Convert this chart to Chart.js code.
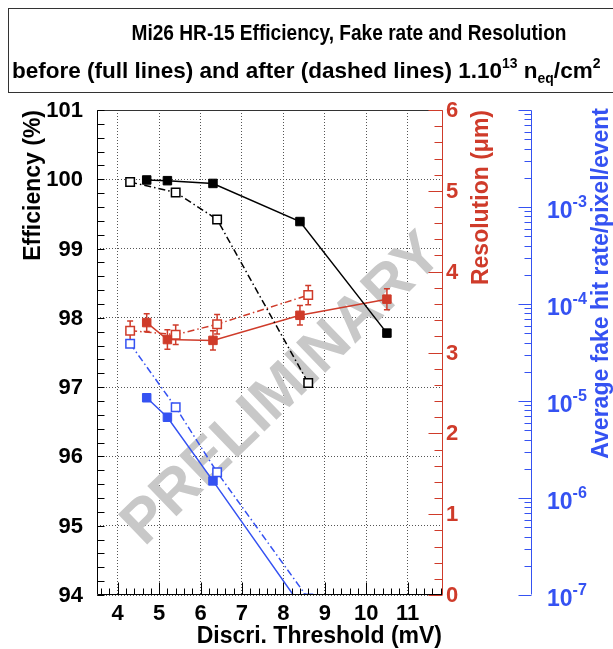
<!DOCTYPE html>
<html>
<head>
<meta charset="utf-8">
<script src="https://cdn.jsdelivr.net/npm/chart.js@4.4.1/dist/chart.umd.min.js"></script>
<style>
    body { margin: 0; background: #ffffff; }
    #caixa { width: 613px; height: 649px; }
</style>
</head>
<body>
<div id="caixa"><canvas id="grafico" width="613" height="649"></canvas></div>
<script>
// limiar do discriminador (mV), antes e depois da irradiacao
var limiarAntes = [4.7, 5.2, 6.3, 8.4, 10.5];
var limiarDepois = [4.3, 5.4, 6.4, 8.6];

// eficiencia (%)
var eficAntes = [99.99, 99.98, 99.94, 99.39, 97.78];
var eficAntesErr = [0.02, 0.02, 0.02, 0.02, 0.05];
var eficDepois = [99.96, 99.81, 99.42, 97.06];
var eficDepoisErr = [0.02, 0.02, 0.03, 0.06];

// resolucao (um)
var resolAntes = [3.37, 3.16, 3.15, 3.46, 3.66];
var resolAntesErr = [0.11, 0.12, 0.12, 0.12, 0.13];
var resolDepois = [3.27, 3.22, 3.35, 3.71];
var resolDepoisErr = [0.12, 0.12, 0.12, 0.12];

// taxa de hits falsos / pixel / evento (ultimo ponto cai abaixo do eixo)
var falsoAntes = [1.08e-5, 6.8e-6, 1.5e-6, 8e-8];
var falsoDepois = [3.9e-5, 8.6e-6, 1.84e-6, 9.2e-8];

// marcas dos eixos
var ticksX = [4, 5, 6, 7, 8, 9, 10, 11];
var ticksEfic = [94, 95, 96, 97, 98, 99, 100, 101];
var ticksResol = [0, 1, 2, 3, 4, 5, 6];
var expoentesFalso = [-7, -6, -5, -4, -3];

var PRETO = '#000000';
var VERMELHO = '#cf3b2a';
var AZUL = '#3552f2';
var FONTE = '"Liberation Sans", Arial, sans-serif';

function pontos (xs, ys) {
    return ys.map(function (y, i) { return { x: xs[i], y: y }; });
}

function escreve (ctx, texto, x, y, fonte, cor, alinh, base, ang, largura) {
    ctx.save();
    ctx.translate(x, y);
    if (ang) ctx.rotate(ang);
    ctx.font = fonte;
    ctx.fillStyle = cor;
    ctx.textAlign = alinh;
    ctx.textBaseline = base;
    // largura alvo: comprime o texto na horizontal
    if (largura) ctx.scale(largura / ctx.measureText(texto).width, 1);
    ctx.fillText(texto, 0, 0);
    ctx.restore();
}

// texto com pedacos em sobrescrito / subscrito
function escrevePartes (ctx, partes, x, y, tam, alinh) {
    var total = 0;
    partes.forEach(function (p) {
        ctx.font = 'bold ' + (tam * p.s) + 'px ' + FONTE;
        p.w = ctx.measureText(p.t).width;
        total += p.w;
    });
    var cx = alinh === 'center' ? x - total / 2 : x;
    partes.forEach(function (p) {
        escreve(ctx, p.t, cx, y + p.dy, 'bold ' + (tam * p.s) + 'px ' + FONTE, p.cor || PRETO, 'left', 'alphabetic');
        cx += p.w;
    });
}

function linhaDoEixo (ctx, x1, y1, x2, y2, cor) {
    ctx.strokeStyle = cor;
    ctx.beginPath();
    ctx.moveTo(x1, y1);
    ctx.lineTo(x2, y2);
    ctx.stroke();
}

var moldura = {
    id: 'moldura',
    beforeDatasetsDraw: function (chart) {
        var ctx = chart.ctx;
        var a = chart.chartArea;

        ctx.save();
        ctx.beginPath();
        ctx.rect(a.left, a.top, a.right - a.left, a.bottom - a.top);
        ctx.clip();
        escreve(ctx, 'PRELIMINARY', 283, 390, 'bold 61px ' + FONTE, '#c8c8c8', 'center', 'middle', -44 * Math.PI / 180);
        ctx.restore();

        // barras de erro
        chart.data.datasets.forEach(function (ds) {
            if (!ds.erro) return;
            var sy = chart.scales[ds.yAxisID];
            var sx = chart.scales.x;
            ctx.save();
            ctx.strokeStyle = ds.borderColor;
            ctx.lineWidth = 1.5;
            ds.data.forEach(function (p, j) {
                var px = sx.getPixelForValue(p.x);
                var y1 = sy.getPixelForValue(p.y - ds.erro[j]);
                var y2 = sy.getPixelForValue(p.y + ds.erro[j]);
                ctx.beginPath();
                ctx.moveTo(px, y1); ctx.lineTo(px, y2);
                ctx.moveTo(px - 3, y1); ctx.lineTo(px + 3, y1);
                ctx.moveTo(px - 3, y2); ctx.lineTo(px + 3, y2);
                ctx.stroke();
            });
            ctx.restore();
        });
    },
    afterDraw: function (chart) {
        var ctx = chart.ctx;
        var a = chart.chartArea;
        var sx = chart.scales.x, sy = chart.scales.y, sr = chart.scales.yRes, sf = chart.scales.yFake;
        var L = a.left + 0.5, R = a.right + 0.5, T = a.top + 0.5, B = a.bottom - 0.5;
        var xAzul = sf.left + 0.5;
        var k, py, px;

        ctx.save();
        ctx.lineWidth = 1;

        // moldura preta
        linhaDoEixo(ctx, L, T, R, T, '#333333');
        linhaDoEixo(ctx, L, T, L, B, PRETO);
        linhaDoEixo(ctx, L, B, R, B, PRETO);

        // eixo esquerdo: marcas a cada 0.2
        for (k = 0; k <= 35; k++) {
            py = Math.round(sy.getPixelForValue(94 + k * 0.2)) + 0.5;
            linhaDoEixo(ctx, L, py, L + 7, py, PRETO);
        }
        // eixo x
        for (k = 18; k <= 59; k++) {
            px = Math.round(sx.getPixelForValue(k * 0.2)) + 0.5;
            linhaDoEixo(ctx, px, B, px, B - (k % 5 === 0 ? 12 : 6), PRETO);
        }
        // eixo vermelho
        linhaDoEixo(ctx, R, T, R, B, VERMELHO);
        for (k = 0; k <= 30; k++) {
            py = Math.round(sr.getPixelForValue(k * 0.2)) + 0.5;
            linhaDoEixo(ctx, R, py, R - (k % 5 === 0 ? 14 : 8), py, VERMELHO);
        }
        // eixo azul (log)
        linhaDoEixo(ctx, xAzul, T, xAzul, B, AZUL);
        for (var e = -7; e <= -2; e++) {
            for (var m = 1; m <= 9; m++) {
                if (e === -2 && m > 1) break;
                py = Math.round(sf.getPixelForValue(m * Math.pow(10, e))) + 0.5;
                linhaDoEixo(ctx, xAzul, py, xAzul - (m === 1 ? 13 : 7), py, AZUL);
            }
        }

        // rotulos
        var fTick = 'bold 22px ' + FONTE;
        ticksX.forEach(function (t) {
            escreve(ctx, String(t), sx.getPixelForValue(t), 614, fTick, PRETO, 'center', 'middle');
        });
        ticksEfic.forEach(function (t) {
            escreve(ctx, String(t), 83, sy.getPixelForValue(t) + 1, fTick, PRETO, 'right', 'middle');
        });
        ticksResol.forEach(function (t) {
            escreve(ctx, String(t), a.right + 4, sr.getPixelForValue(t) + 1, fTick, VERMELHO, 'left', 'middle');
        });
        expoentesFalso.forEach(function (e) {
            var yb = sf.getPixelForValue(Math.pow(10, e)) + 11;
            escrevePartes(ctx, [
                { t: '10', s: 1, dy: 0, cor: AZUL },
                { t: String(e), s: 0.7, dy: -11, cor: AZUL }
            ], 547, yb, 23, 'left');
        });

        // titulos dos eixos
        var fTit = 'bold 23px ' + FONTE;
        escreve(ctx, 'Efficiency (%)', 34, a.top, fTit, PRETO, 'right', 'middle', -Math.PI / 2);
        escreve(ctx, 'Resolution (\u03bcm)', 482, a.top, fTit, VERMELHO, 'right', 'middle', -Math.PI / 2);
        escreve(ctx, 'Average fake hit rate/pixel/event', 602, a.top - 2, fTit, AZUL, 'right', 'middle', -Math.PI / 2);
        escreve(ctx, 'Discri. Threshold (mV)', a.right, 637, fTit, PRETO, 'right', 'middle');

        // caixa do titulo
        ctx.strokeStyle = '#333333';
        ctx.strokeRect(8.5, 8.5, 700, 84);
        escreve(ctx, 'Mi26 HR-15 Efficiency, Fake rate and Resolution', 349, 40, 'bold 21.5px ' + FONTE, PRETO, 'center', 'alphabetic', 0, 435);
        escrevePartes(ctx, [
            { t: 'before (full lines) and after (dashed lines) 1.10', s: 1, dy: 0 },
            { t: '13', s: 0.62, dy: -10 },
            { t: ' n', s: 1, dy: 0 },
            { t: 'eq', s: 0.62, dy: 5 },
            { t: '/cm', s: 1, dy: 0 },
            { t: '2', s: 0.62, dy: -10 }
        ], 12, 78, 22.5, 'left');

        ctx.restore();
    }
};

function serie (rotulo, xs, ys, erros, cor, eixo, tracejado) {
    return {
        label: rotulo,
        data: pontos(xs, ys),
        erro: erros,
        yAxisID: eixo,
        borderColor: cor,
        backgroundColor: tracejado ? '#ffffff' : cor,
        borderWidth: 1.5,
        borderDash: tracejado ? [7, 3, 1.5, 3] : [],
        pointStyle: 'rect',
        pointRadius: 6,
        pointBorderWidth: tracejado ? 1.5 : 1,
        pointBorderColor: cor,
        pointBackgroundColor: tracejado ? '#ffffff' : cor,
        tension: 0,
        fill: false
    };
}

function inicializarGrafico () {
    var ctx = document.getElementById('grafico');

    new Chart(ctx, {
        type: 'line',
        data: {
            datasets: [
                serie('Efic. antes', limiarAntes, eficAntes, eficAntesErr, PRETO, 'y', false),
                serie('Efic. depois', limiarDepois, eficDepois, eficDepoisErr, PRETO, 'y', true),
                serie('Resol. antes', limiarAntes, resolAntes, resolAntesErr, VERMELHO, 'yRes', false),
                serie('Resol. depois', limiarDepois, resolDepois, resolDepoisErr, VERMELHO, 'yRes', true),
                serie('Falso antes', limiarAntes.slice(0, 4), falsoAntes, null, AZUL, 'yFake', false),
                serie('Falso depois', limiarDepois, falsoDepois, null, AZUL, 'yFake', true)
            ]
        },
        options: {
            responsive: false,
            animation: false,
            layout: { padding: { top: 110, left: 0, right: 0, bottom: 0 } },
            plugins: {
                legend: { display: false },
                tooltip: { enabled: false },
                title: { display: false }
            },
            scales: {
                x: {
                    type: 'linear',
                    min: 3.5,
                    max: 11.83,
                    afterBuildTicks: function (s) { s.ticks = ticksX.map(function (v) { return { value: v }; }); },
                    afterFit: function (s) { s.height = 54; },
                    grid: { color: '#555555', lineWidth: 1, drawTicks: false },
                    border: { display: false, dash: [1, 2] },
                    ticks: { display: false }
                },
                y: {
                    type: 'linear',
                    position: 'left',
                    min: 94,
                    max: 101,
                    afterBuildTicks: function (s) { s.ticks = ticksEfic.map(function (v) { return { value: v }; }); },
                    afterFit: function (s) { s.width = 97; },
                    grid: { color: '#555555', lineWidth: 1, drawTicks: false },
                    border: { display: false, dash: [1, 2] },
                    ticks: { display: false }
                },
                yRes: {
                    type: 'linear',
                    position: 'right',
                    weight: 0,
                    min: 0,
                    max: 6,
                    afterFit: function (s) { s.width = 89; },
                    grid: { display: false },
                    border: { display: false },
                    ticks: { display: false }
                },
                yFake: {
                    type: 'logarithmic',
                    position: 'right',
                    weight: 1,
                    min: 1e-7,
                    max: 1e-2,
                    afterFit: function (s) { s.width = 82; },
                    grid: { display: false },
                    border: { display: false },
                    ticks: { display: false }
                }
            }
        },
        plugins: [moldura]
    });
}

inicializarGrafico();
</script>
</body>
</html>
